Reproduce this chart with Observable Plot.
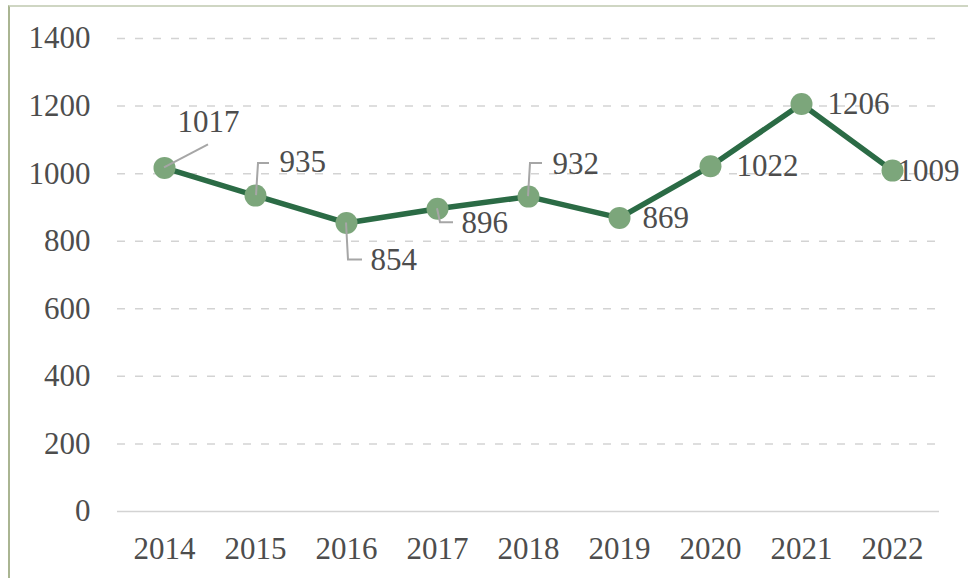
<!DOCTYPE html>
<html><head><meta charset="utf-8">
<script src="https://cdn.jsdelivr.net/npm/d3@7"></script>
<script src="https://cdn.jsdelivr.net/npm/@observablehq/plot@0.6"></script>
<style>
body{margin:0;background:#fff;}
#wrap{position:relative;width:968px;height:578px;overflow:hidden;}
#frame{position:absolute;left:8px;top:5px;right:-4px;bottom:-4px;border-top:2px solid #cfd6c3;border-left:2px solid #aab592;pointer-events:none;}
</style></head><body><div id="wrap"><div id="chart"></div><div id="frame"></div></div>
<script>
// ---- data ----
const years = ["2014","2015","2016","2017","2018","2019","2020","2021","2022"];
const values = [1017, 935, 854, 896, 932, 869, 1022, 1206, 1009];
const yTicks = [0, 200, 400, 600, 800, 1000, 1200, 1400];

// ---- label layout (pixel offsets from each point) ----
const labelDx = [13, 24, 24, 24, 24, 23, 26, 26, 5];
const labelDy = [-46, -34, 37, 14, -33, 0, 0, 0, 0];
const leaders = [
  [[0,0],[44,-23]],
  [[1,0],[3,-32],[14,-32]],
  [[0,0],[2,37],[16,37]],
  [[0,0],[3,14],[16,14]],
  [[0,0],[2,-33],[14,-33]],
  null, null, null, null
];

const data = years.map((y, i) => ({year: y, value: values[i]}));
const font = "'Liberation Serif', 'DejaVu Serif', serif";
const textColor = "#4d4d4d";
const fs = 31;

const leaderMark = (index, scales) => {
  const g = d3.create("svg:g");
  data.forEach((d, i) => {
    const pts = leaders[i];
    if (!pts) return;
    const cx = scales.x(d.year), cy = scales.y(d.value);
    g.append("path")
      .attr("d", "M" + pts.map(p => (cx + p[0]) + "," + (cy + p[1])).join("L"))
      .attr("fill", "none")
      .attr("stroke", "#a6a6a6")
      .attr("stroke-width", 2);
  });
  return g.node();
};

const labelMarks = data.map((d, i) =>
  Plot.text([d], {
    x: "year", y: "value", text: d => String(d.value),
    dx: labelDx[i], dy: labelDy[i],
    textAnchor: "start", lineAnchor: "middle",
    fontSize: fs, fontFamily: font, fill: textColor
  })
);

const chart = Plot.plot({
  width: 968,
  height: 578,
  marginLeft: 117,
  marginRight: 29,
  marginTop: 38,
  marginBottom: 67,
  style: {fontFamily: font, fontSize: fs + "px", color: textColor, background: "transparent"},
  x: {type: "point", domain: years, padding: 0.5, tickSize: 0, tickPadding: 25, label: null},
  y: {domain: [0, 1400], ticks: yTicks, tickSize: 0, tickPadding: 27, tickFormat: d => String(d), label: null},
  marks: [
    Plot.ruleY(yTicks.filter(t => t > 0), {stroke: "#d3d3d3", strokeWidth: 1.5, strokeDasharray: "8,10"}),
    Plot.ruleY([0], {stroke: "#d3d3d3", strokeWidth: 1.5}),
    Plot.line(data, {x: "year", y: "value", stroke: "#2b6b45", strokeWidth: 5.5}),
    Plot.dot(data, {x: "year", y: "value", r: 11, fill: "#7ca67b", stroke: "none"}),
    leaderMark,
    ...labelMarks
  ]
});
document.getElementById("chart").appendChild(chart);
</script>
</body></html>
